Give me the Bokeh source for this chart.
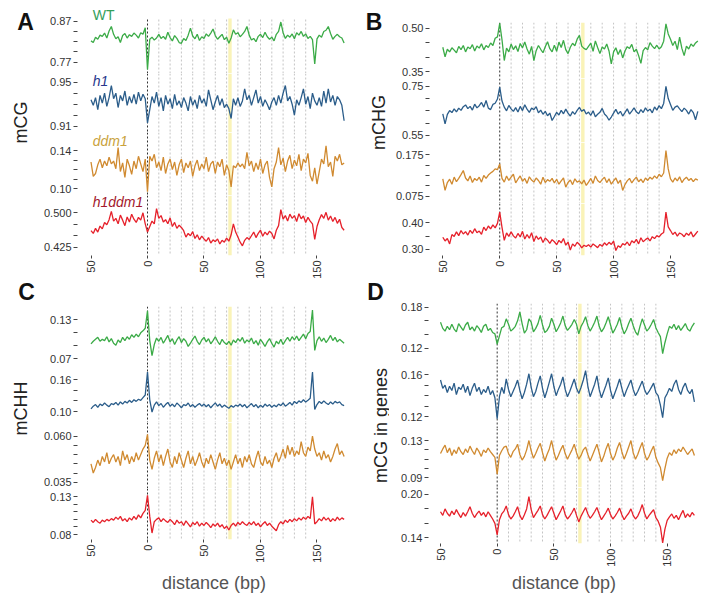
import math
from bokeh.plotting import figure
from bokeh.layouts import row, column
from bokeh.models import Range1d, FixedTicker, NumeralTickFormatter, Span, BoxAnnotation
from bokeh.core.properties import value
from bokeh.embed import file_html
from bokeh.resources import INLINE

FONT_NAME = "Liberation Sans"
FONT = value(FONT_NAME)

# ---------------- data ----------------
x_bp = list(range(-50, 176, 2))
genotypes = ["WT", "h1", "ddm1", "h1ddm1"]
line_colors = ["#3bab47", "#2b5d8a", "#d08a30", "#e6212b"]
name_colors = ["#34a05a", "#28378c", "#c9a23c", "#a3172b"]
name_styles = ["normal", "italic", "italic", "italic"]

xtick_vals = [-50, 0, 50, 100, 150]
xtick_labels = ["50", "0", "50", "100", "150"]
phase_lines = [10, 20, 30, 40, 50, 60, 70, 80, 90, 100, 110, 120, 130, 140]
dyad_band = [71.5, 74.5]

# panel A : mCG
mCG_WT = [0.822, 0.818, 0.831, 0.826, 0.836, 0.833, 0.841, 0.829, 0.846, 0.857,
          0.838, 0.827, 0.832, 0.818, 0.835, 0.840, 0.829, 0.837, 0.833, 0.841,
          0.836, 0.829, 0.842, 0.838, 0.854, 0.752, 0.826, 0.831, 0.824, 0.829,
          0.838, 0.828, 0.833, 0.826, 0.843, 0.830, 0.822, 0.835, 0.828, 0.818,
          0.816, 0.828, 0.823, 0.836, 0.853, 0.834, 0.827, 0.838, 0.823, 0.832,
          0.828, 0.839, 0.833, 0.841, 0.851, 0.835, 0.826, 0.832, 0.838, 0.825,
          0.831, 0.816, 0.829, 0.849, 0.838, 0.842, 0.832, 0.838, 0.845, 0.857,
          0.836, 0.824, 0.828, 0.820, 0.833, 0.838, 0.830, 0.843, 0.832, 0.826,
          0.831, 0.822, 0.838, 0.845, 0.868, 0.842, 0.828, 0.836, 0.831, 0.839,
          0.827, 0.842, 0.836, 0.845, 0.833, 0.839, 0.828, 0.833, 0.825, 0.766,
          0.827, 0.836, 0.831, 0.845, 0.848, 0.857, 0.840, 0.826, 0.833, 0.838,
          0.832, 0.829, 0.817]
mCG_h1 = [0.934, 0.929, 0.936, 0.925, 0.938, 0.931, 0.940, 0.928, 0.936, 0.947,
          0.935, 0.940, 0.927, 0.938, 0.933, 0.942, 0.929, 0.937, 0.931, 0.939,
          0.930, 0.941, 0.933, 0.939, 0.935, 0.913, 0.925, 0.937, 0.931, 0.941,
          0.928, 0.936, 0.924, 0.938, 0.930, 0.935, 0.926, 0.939, 0.929, 0.933,
          0.927, 0.936, 0.931, 0.924, 0.937, 0.929, 0.934, 0.926, 0.938, 0.931,
          0.935, 0.928, 0.943, 0.934, 0.925, 0.932, 0.938, 0.929, 0.935, 0.927,
          0.930, 0.926, 0.917, 0.935, 0.929, 0.936, 0.928, 0.933, 0.944, 0.934,
          0.938, 0.929, 0.936, 0.943, 0.931, 0.937, 0.928, 0.934, 0.930, 0.925,
          0.932, 0.936, 0.929, 0.938, 0.931, 0.940, 0.947, 0.933, 0.937, 0.930,
          0.920, 0.934, 0.929, 0.936, 0.944, 0.930, 0.937, 0.926, 0.940, 0.933,
          0.929, 0.936, 0.928, 0.942, 0.931, 0.944, 0.932, 0.938, 0.929, 0.937,
          0.934, 0.929, 0.915]
mCG_ddm1 = [0.128, 0.113, 0.116, 0.125, 0.131, 0.122, 0.129, 0.124, 0.133, 0.126,
            0.129, 0.121, 0.143, 0.118, 0.127, 0.112, 0.131, 0.124, 0.115, 0.129,
            0.121, 0.134, 0.126, 0.118, 0.131, 0.097, 0.134, 0.129, 0.136, 0.122,
            0.128, 0.119, 0.133, 0.116, 0.126, 0.131, 0.120, 0.128, 0.114, 0.125,
            0.131, 0.117, 0.127, 0.122, 0.129, 0.113, 0.124, 0.130, 0.119, 0.126,
            0.121, 0.133, 0.118, 0.126, 0.129, 0.116, 0.128, 0.123, 0.131, 0.114,
            0.125, 0.119, 0.102, 0.124, 0.122, 0.127, 0.123, 0.126, 0.121, 0.138,
            0.124, 0.129, 0.118, 0.127, 0.120, 0.131, 0.116, 0.125, 0.129, 0.112,
            0.102, 0.121, 0.128, 0.143, 0.125, 0.132, 0.118, 0.129, 0.135, 0.121,
            0.130, 0.124, 0.136, 0.119, 0.131, 0.127, 0.137, 0.114, 0.108, 0.122,
            0.105, 0.118, 0.131, 0.126, 0.145, 0.123, 0.128, 0.113, 0.134, 0.129,
            0.136, 0.125, 0.127]
mCG_h1ddm1 = [0.461, 0.455, 0.466, 0.458, 0.471, 0.465, 0.479, 0.474, 0.485, 0.503,
              0.482, 0.488, 0.476, 0.495, 0.484, 0.472, 0.491, 0.480, 0.497, 0.486,
              0.479, 0.490, 0.484, 0.500, 0.476, 0.458, 0.470, 0.482, 0.476, 0.509,
              0.488, 0.494, 0.480, 0.485, 0.476, 0.489, 0.470, 0.479, 0.466, 0.473,
              0.468, 0.461, 0.447, 0.455, 0.450, 0.459, 0.444, 0.452, 0.441, 0.449,
              0.443, 0.438, 0.446, 0.434, 0.441, 0.437, 0.443, 0.432, 0.440, 0.436,
              0.445, 0.438, 0.452, 0.476, 0.458, 0.447, 0.436, 0.428, 0.440, 0.446,
              0.442, 0.450, 0.458, 0.446, 0.455, 0.462, 0.449, 0.458, 0.452, 0.460,
              0.455, 0.443, 0.462, 0.472, 0.507, 0.486, 0.494, 0.482, 0.497, 0.488,
              0.494, 0.481, 0.498, 0.487, 0.493, 0.479, 0.490, 0.482, 0.476, 0.442,
              0.470, 0.485, 0.496, 0.488, 0.501, 0.484, 0.493, 0.481, 0.490, 0.477,
              0.486, 0.468, 0.462]

# panel B : mCHG
mCHG_WT = [0.434, 0.401, 0.427, 0.418, 0.432, 0.424, 0.415, 0.437, 0.426, 0.440,
           0.418, 0.435, 0.429, 0.443, 0.421, 0.438, 0.431, 0.446, 0.425, 0.440,
           0.433, 0.449, 0.440, 0.465, 0.470, 0.517, 0.460, 0.388, 0.431, 0.418,
           0.445, 0.426, 0.439, 0.419, 0.447, 0.432, 0.452, 0.428, 0.410, 0.437,
           0.388, 0.422, 0.440, 0.427, 0.415, 0.436, 0.453, 0.429, 0.418, 0.441,
           0.420, 0.452, 0.433, 0.458, 0.426, 0.412, 0.434, 0.448, 0.439, 0.462,
           0.475, 0.438, 0.430, 0.426, 0.437, 0.448, 0.420, 0.456, 0.433, 0.412,
           0.435, 0.428, 0.445, 0.421, 0.376, 0.418, 0.432, 0.409, 0.426, 0.397,
           0.421, 0.436, 0.430, 0.444, 0.418, 0.427, 0.405, 0.378, 0.422, 0.433,
           0.425, 0.450, 0.438, 0.429, 0.441, 0.428, 0.436, 0.455, 0.515, 0.480,
           0.462, 0.440, 0.455, 0.426, 0.469, 0.430, 0.405, 0.438, 0.428, 0.445,
           0.437, 0.449, 0.456]
mCHG_h1 = [0.638, 0.597, 0.636, 0.651, 0.643, 0.658, 0.646, 0.661, 0.652, 0.667,
           0.674, 0.659, 0.668, 0.653, 0.677, 0.662, 0.671, 0.684, 0.665, 0.692,
           0.661, 0.655, 0.676, 0.681, 0.698, 0.746, 0.690, 0.665, 0.650, 0.672,
           0.658, 0.648, 0.663, 0.645, 0.668, 0.651, 0.675, 0.657, 0.644, 0.661,
           0.655, 0.667, 0.642, 0.653, 0.636, 0.648, 0.630, 0.641, 0.611, 0.627,
           0.644, 0.633, 0.652, 0.638, 0.657, 0.641, 0.629, 0.647, 0.636, 0.652,
           0.664, 0.648, 0.655, 0.637, 0.645, 0.632, 0.650, 0.626, 0.636, 0.644,
           0.660, 0.637, 0.628, 0.612, 0.625, 0.641, 0.656, 0.637, 0.648, 0.629,
           0.643, 0.658, 0.637, 0.649, 0.662, 0.646, 0.638, 0.655, 0.643, 0.662,
           0.649, 0.657, 0.642, 0.666, 0.653, 0.671, 0.659, 0.680, 0.749, 0.700,
           0.676, 0.652, 0.665, 0.670, 0.658, 0.647, 0.661, 0.652, 0.637, 0.655,
           0.643, 0.614, 0.648]
mCHG_ddm1 = [0.117, 0.089, 0.108, 0.116, 0.104, 0.121, 0.110, 0.118, 0.127, 0.137,
             0.119, 0.112, 0.124, 0.108, 0.118, 0.113, 0.121, 0.109, 0.125, 0.118,
             0.126, 0.131, 0.135, 0.141, 0.139, 0.153, 0.118, 0.109, 0.124, 0.113,
             0.121, 0.128, 0.107, 0.116, 0.124, 0.111, 0.118, 0.106, 0.122, 0.114,
             0.109, 0.119, 0.113, 0.104, 0.121, 0.108, 0.115, 0.111, 0.118, 0.107,
             0.116, 0.104, 0.112, 0.119, 0.097, 0.108, 0.114, 0.103, 0.117, 0.109,
             0.112, 0.105, 0.114, 0.101, 0.109, 0.118, 0.106, 0.124, 0.113, 0.108,
             0.115, 0.121, 0.108, 0.117, 0.104, 0.112, 0.119, 0.106, 0.114, 0.089,
             0.103, 0.112, 0.118, 0.107, 0.115, 0.121, 0.110, 0.116, 0.108, 0.119,
             0.113, 0.121, 0.116, 0.124, 0.118, 0.128, 0.122, 0.131, 0.185, 0.141,
             0.117, 0.109, 0.119, 0.112, 0.122, 0.108, 0.116, 0.121, 0.113, 0.118,
             0.110, 0.117, 0.114]
mCHG_h1ddm1 = [0.346, 0.332, 0.341, 0.321, 0.356, 0.349, 0.366, 0.352, 0.371, 0.358,
               0.367, 0.354, 0.372, 0.360, 0.378, 0.363, 0.369, 0.357, 0.384, 0.371,
               0.388, 0.377, 0.392, 0.381, 0.398, 0.440, 0.383, 0.334, 0.362, 0.349,
               0.366, 0.351, 0.343, 0.360, 0.347, 0.368, 0.339, 0.356, 0.342, 0.363,
               0.330, 0.351, 0.338, 0.347, 0.326, 0.343, 0.335, 0.323, 0.337, 0.329,
               0.318, 0.334, 0.325, 0.341, 0.316, 0.328, 0.298, 0.321, 0.312, 0.327,
               0.319, 0.306, 0.316, 0.311, 0.318, 0.309, 0.321, 0.314, 0.307, 0.319,
               0.312, 0.325, 0.316, 0.327, 0.319, 0.331, 0.296, 0.314, 0.308, 0.322,
               0.317, 0.328, 0.314, 0.333, 0.325, 0.338, 0.321, 0.344, 0.329, 0.337,
               0.343, 0.332, 0.348, 0.341, 0.352, 0.347, 0.358, 0.364, 0.440, 0.385,
               0.371, 0.356, 0.365, 0.350, 0.362, 0.357, 0.348, 0.361, 0.353, 0.366,
               0.347, 0.358, 0.369]

# panel C : mCHH
mCHH_WT = [0.093, 0.097, 0.100, 0.103, 0.097, 0.100, 0.098, 0.104, 0.096, 0.101,
           0.094, 0.091, 0.099, 0.095, 0.103, 0.098, 0.104, 0.100, 0.107, 0.103,
           0.108, 0.104, 0.110, 0.113, 0.117, 0.144, 0.098, 0.075, 0.092, 0.102,
           0.097, 0.103, 0.094, 0.100, 0.106, 0.096, 0.101, 0.092, 0.099, 0.104,
           0.095, 0.101, 0.097, 0.089, 0.094, 0.100, 0.105, 0.097, 0.092, 0.099,
           0.103, 0.096, 0.101, 0.093, 0.098, 0.104, 0.097, 0.092, 0.100, 0.095,
           0.092, 0.097, 0.091, 0.099, 0.095, 0.101, 0.097, 0.103, 0.094, 0.099,
           0.096, 0.102, 0.093, 0.098, 0.091, 0.100, 0.095, 0.089, 0.096, 0.101,
           0.094, 0.088, 0.097, 0.093, 0.100, 0.092, 0.098, 0.103, 0.097, 0.104,
           0.099, 0.105, 0.098, 0.103, 0.108, 0.101, 0.109, 0.112, 0.145, 0.083,
           0.098, 0.104, 0.097, 0.102, 0.095, 0.100, 0.106, 0.098, 0.103, 0.096,
           0.100, 0.097, 0.094]
mCHH_h1 = [0.105, 0.110, 0.113, 0.108, 0.114, 0.111, 0.116, 0.112, 0.109, 0.115,
           0.113, 0.117, 0.112, 0.118, 0.114, 0.119, 0.116, 0.121, 0.117, 0.122,
           0.119, 0.123, 0.121, 0.126, 0.131, 0.174, 0.122, 0.099, 0.112, 0.118,
           0.111, 0.115, 0.108, 0.113, 0.117, 0.110, 0.114, 0.109, 0.116, 0.112,
           0.107, 0.113, 0.111, 0.116, 0.109, 0.113, 0.108, 0.112, 0.115, 0.110,
           0.114, 0.109, 0.113, 0.107, 0.112, 0.116, 0.110, 0.114, 0.108, 0.112,
           0.109, 0.106, 0.111, 0.108, 0.112, 0.110, 0.114, 0.109, 0.113, 0.107,
           0.111, 0.115, 0.109, 0.113, 0.107, 0.112, 0.108, 0.114, 0.110, 0.113,
           0.108, 0.112, 0.109, 0.114, 0.111, 0.116, 0.110, 0.113, 0.117, 0.112,
           0.119, 0.115, 0.120, 0.117, 0.122, 0.118, 0.121, 0.125, 0.174, 0.104,
           0.113, 0.119, 0.115, 0.120, 0.116, 0.113, 0.118, 0.114, 0.119, 0.116,
           0.118, 0.113, 0.111]
mCHH_ddm1 = [0.045, 0.040, 0.043, 0.047, 0.044, 0.049, 0.046, 0.051, 0.045, 0.048,
             0.050, 0.046, 0.049, 0.044, 0.052, 0.047, 0.050, 0.045, 0.049, 0.046,
             0.051, 0.047, 0.050, 0.053, 0.055, 0.061, 0.047, 0.042, 0.048, 0.052,
             0.046, 0.050, 0.044, 0.049, 0.053, 0.046, 0.043, 0.049, 0.045, 0.051,
             0.047, 0.043, 0.048, 0.052, 0.045, 0.049, 0.044, 0.047, 0.051, 0.046,
             0.043, 0.048, 0.045, 0.050, 0.046, 0.042, 0.047, 0.051, 0.045, 0.048,
             0.044, 0.047, 0.042, 0.046, 0.050, 0.045, 0.048, 0.043, 0.049, 0.046,
             0.050, 0.045, 0.043, 0.048, 0.052, 0.046, 0.044, 0.049, 0.045, 0.047,
             0.043, 0.048, 0.051, 0.046, 0.049, 0.053, 0.048, 0.055, 0.050, 0.054,
             0.049, 0.052, 0.050, 0.057, 0.051, 0.049, 0.054, 0.052, 0.060, 0.053,
             0.049, 0.051, 0.047, 0.052, 0.048, 0.050, 0.046, 0.049, 0.053, 0.056,
             0.050, 0.052, 0.049]
mCHH_h1ddm1 = [0.099, 0.096, 0.100, 0.097, 0.095, 0.099, 0.097, 0.100, 0.098, 0.101,
               0.099, 0.103, 0.100, 0.104, 0.098, 0.101, 0.097, 0.102, 0.099, 0.104,
               0.100, 0.106, 0.102, 0.108, 0.112, 0.132, 0.104, 0.082, 0.097, 0.100,
               0.102, 0.097, 0.101, 0.098, 0.096, 0.100, 0.097, 0.093, 0.099, 0.095,
               0.097, 0.092, 0.098, 0.094, 0.090, 0.096, 0.093, 0.097, 0.091, 0.095,
               0.092, 0.096, 0.093, 0.089, 0.094, 0.091, 0.095, 0.090, 0.093, 0.088,
               0.091, 0.086, 0.092, 0.095, 0.091, 0.096, 0.093, 0.097, 0.094, 0.092,
               0.096, 0.093, 0.097, 0.092, 0.095, 0.090, 0.094, 0.097, 0.092, 0.095,
               0.091, 0.088, 0.085, 0.093, 0.097, 0.094, 0.099, 0.096, 0.100, 0.097,
               0.101, 0.098, 0.102, 0.099, 0.103, 0.100, 0.104, 0.101, 0.130, 0.094,
               0.097, 0.101, 0.098, 0.103, 0.099, 0.102, 0.097, 0.101, 0.098, 0.103,
               0.099, 0.102, 0.100]

# panel D : mCG in genes
genes_WT = [0.158, 0.149, 0.145, 0.152, 0.147, 0.155, 0.148, 0.144, 0.156, 0.151,
            0.146, 0.154, 0.158, 0.147, 0.151, 0.145, 0.153, 0.149, 0.143, 0.152,
            0.155, 0.146, 0.149, 0.143, 0.141, 0.126, 0.138, 0.150, 0.152, 0.163,
            0.155, 0.145, 0.148, 0.152, 0.160, 0.173, 0.156, 0.142, 0.147, 0.163,
            0.158, 0.144, 0.149, 0.156, 0.168, 0.154, 0.143, 0.146, 0.152, 0.164,
            0.155, 0.144, 0.150, 0.157, 0.167, 0.153, 0.146, 0.150, 0.155, 0.162,
            0.155, 0.141, 0.152, 0.158, 0.166, 0.153, 0.145, 0.151, 0.158, 0.167,
            0.152, 0.144, 0.149, 0.157, 0.166, 0.154, 0.142, 0.148, 0.155, 0.165,
            0.151, 0.141, 0.147, 0.156, 0.164, 0.153, 0.144, 0.139, 0.152, 0.163,
            0.154, 0.145, 0.149, 0.155, 0.162, 0.150, 0.143, 0.137, 0.112, 0.128,
            0.141, 0.152, 0.149, 0.155, 0.147, 0.153, 0.146, 0.151, 0.156, 0.148,
            0.145, 0.152, 0.157]
genes_h1 = [0.155, 0.147, 0.150, 0.143, 0.149, 0.145, 0.152, 0.141, 0.148, 0.146,
            0.151, 0.143, 0.149, 0.140, 0.147, 0.152, 0.144, 0.148, 0.141, 0.146,
            0.143, 0.149, 0.141, 0.145, 0.138, 0.118, 0.139, 0.148, 0.142, 0.156,
            0.146, 0.139, 0.144, 0.149, 0.155, 0.145, 0.137, 0.143, 0.151, 0.161,
            0.148, 0.139, 0.144, 0.152, 0.159, 0.147, 0.138, 0.145, 0.153, 0.161,
            0.149, 0.140, 0.146, 0.151, 0.158, 0.146, 0.139, 0.144, 0.150, 0.156,
            0.147, 0.142, 0.148, 0.155, 0.164, 0.149, 0.139, 0.145, 0.151, 0.159,
            0.146, 0.138, 0.144, 0.150, 0.157, 0.145, 0.137, 0.143, 0.149, 0.156,
            0.147, 0.139, 0.145, 0.150, 0.155, 0.146, 0.140, 0.144, 0.149, 0.154,
            0.146, 0.141, 0.144, 0.148, 0.152, 0.143, 0.140, 0.131, 0.119, 0.138,
            0.142, 0.147, 0.144, 0.151, 0.155, 0.146, 0.141, 0.148, 0.152, 0.145,
            0.142, 0.146, 0.134]
genes_ddm1 = [0.116, 0.121, 0.125, 0.117, 0.122, 0.114, 0.120, 0.116, 0.123, 0.118,
              0.115, 0.121, 0.117, 0.124, 0.119, 0.115, 0.122, 0.118, 0.113, 0.120,
              0.117, 0.122, 0.118, 0.115, 0.112, 0.094, 0.114, 0.119, 0.123, 0.124,
              0.116, 0.112, 0.118, 0.121, 0.126, 0.115, 0.109, 0.113, 0.120, 0.130,
              0.119, 0.111, 0.116, 0.122, 0.127, 0.117, 0.108, 0.115, 0.121, 0.130,
              0.118, 0.109, 0.114, 0.120, 0.125, 0.116, 0.110, 0.115, 0.120, 0.126,
              0.117, 0.110, 0.114, 0.120, 0.123, 0.115, 0.108, 0.114, 0.120, 0.126,
              0.117, 0.107, 0.113, 0.121, 0.127, 0.116, 0.109, 0.114, 0.122, 0.128,
              0.118, 0.110, 0.116, 0.123, 0.130, 0.117, 0.110, 0.115, 0.122, 0.128,
              0.116, 0.109, 0.113, 0.119, 0.124, 0.112, 0.106, 0.101, 0.087, 0.100,
              0.111, 0.117, 0.114, 0.120, 0.116, 0.121, 0.118, 0.123, 0.119, 0.115,
              0.118, 0.121, 0.114]
genes_h1ddm1 = [0.176, 0.171, 0.180, 0.174, 0.170, 0.177, 0.172, 0.179, 0.173, 0.168,
                0.175, 0.170, 0.176, 0.183, 0.174, 0.168, 0.173, 0.177, 0.171, 0.175,
                0.169, 0.176, 0.171, 0.166, 0.160, 0.144, 0.165, 0.173, 0.177, 0.184,
                0.172, 0.166, 0.170, 0.176, 0.183, 0.171, 0.165, 0.172, 0.180, 0.197,
                0.179, 0.168, 0.173, 0.178, 0.184, 0.172, 0.166, 0.171, 0.177, 0.183,
                0.174, 0.165, 0.171, 0.177, 0.184, 0.172, 0.166, 0.170, 0.175, 0.181,
                0.171, 0.162, 0.170, 0.176, 0.182, 0.173, 0.167, 0.171, 0.176, 0.182,
                0.173, 0.165, 0.170, 0.175, 0.181, 0.172, 0.166, 0.170, 0.175, 0.181,
                0.172, 0.165, 0.170, 0.174, 0.180, 0.171, 0.166, 0.170, 0.177, 0.186,
                0.174, 0.166, 0.171, 0.175, 0.179, 0.168, 0.163, 0.155, 0.133, 0.152,
                0.164, 0.169, 0.173, 0.167, 0.171, 0.165, 0.172, 0.178, 0.168, 0.173,
                0.169, 0.175, 0.171]

# axis ticks (labelled ends) and unlabelled minor ticks for each sub-panel
mCG_ticks = [["0.77", "0.87"], ["0.91", "0.95"], ["0.10", "0.14"], ["0.425", "0.500"]]
mCG_minor = [[0.795, 0.82, 0.845], [0.92, 0.93, 0.94], [0.11, 0.12, 0.13], [0.45, 0.475]]
mCHG_ticks = [["0.35", "0.50"], ["0.55", "0.75"], ["0.075", "0.175"], ["0.30", "0.40"]]
mCHG_minor = [[0.40, 0.45], [0.60, 0.65, 0.70], [0.10, 0.125, 0.15], [0.35]]
mCHH_ticks = [["0.07", "0.13"], ["0.10", "0.16"], ["0.035", "0.060"], ["0.08", "0.13"]]
mCHH_minor = [[0.09, 0.11], [0.12, 0.14], [0.040, 0.045, 0.050, 0.055], [0.09, 0.10, 0.11, 0.12]]
genes_ticks = [["0.12", "0.18"], ["0.12", "0.16"], ["0.09", "0.13"], ["0.14", "0.20"]]
genes_minor = [[0.14, 0.16], [0.13, 0.14, 0.15], [0.10, 0.11, 0.12], [0.16, 0.18]]

for s in [mCG_WT, mCG_h1, mCG_ddm1, mCG_h1ddm1, mCHG_WT, mCHG_h1, mCHG_ddm1, mCHG_h1ddm1,
          mCHH_WT, mCHH_h1, mCHH_ddm1, mCHH_h1ddm1, genes_WT, genes_h1, genes_ddm1, genes_h1ddm1]:
    assert len(s) == len(x_bp), len(s)

# ---------------- drawing ----------------
def style_axis_common(ax):
    ax.axis_line_color = None
    ax.major_tick_in = 0
    ax.minor_tick_in = 0
    ax.major_tick_line_color = "#444444"
    ax.minor_tick_line_color = "#444444"
    ax.major_label_text_font = FONT_NAME
    ax.major_label_text_font_size = "11px"
    ax.major_label_text_color = "#333333"
    ax.major_label_standoff = 2


def make_panel(series, ticks, minors, yranges, frame_h, top_b, bot_b, xr, bl, fw, br,
               names=None, cap=None, xlabel=None, xlabel_standoff=0):
    figs = []
    for i in range(4):
        first, last = i == 0, i == 3
        h = frame_h[i] + (top_b if first else 0) + (bot_b if last else 0)
        p = figure(width=bl + fw + br, height=h, output_backend="svg", toolbar_location=None,
                   x_range=Range1d(*xr), y_range=Range1d(*yranges[i]),
                   x_axis_location="below" if last else None, y_axis_location="left",
                   min_border=0, min_border_left=bl, min_border_right=br,
                   min_border_top=top_b if first else 0, min_border_bottom=bot_b if last else 0)
        p.outline_line_color = None
        p.grid.visible = False
        p.background_fill_color = "white"
        p.border_fill_color = "white"
        ylo, yhi = yranges[i]
        if first and cap is not None:
            p.quad(left=[dyad_band[0]], right=[dyad_band[1]], bottom=[ylo], top=[cap],
                   fill_color="#faf3b8", line_color=None, level="underlay")
            p.segment(x0=phase_lines, y0=[ylo] * len(phase_lines), x1=phase_lines,
                      y1=[cap] * len(phase_lines), line_color="#c4c4c4", line_dash="2 2",
                      line_width=1, level="underlay")
            p.segment(x0=[0], y0=[ylo], x1=[0], y1=[cap], line_color="#333333",
                      line_dash="2 2", line_width=1, level="underlay")
        else:
            p.add_layout(BoxAnnotation(left=dyad_band[0], right=dyad_band[1],
                                       fill_color="#faf3b8", fill_alpha=1.0,
                                       line_color=None, level="underlay"))
            for xv in phase_lines:
                p.add_layout(Span(location=xv, dimension="height", line_color="#c4c4c4",
                                  line_dash="2 2", line_width=1, level="underlay"))
            p.add_layout(Span(location=0, dimension="height", line_color="#333333",
                              line_dash="2 2", line_width=1, level="underlay"))
        p.line(x_bp, series[i], line_color=line_colors[i], line_width=1.3)
        if names is not None:
            p.text(x=[names[0]], y=[names[1][i]], text=[genotypes[i]],
                   text_color=name_colors[i], text_font=FONT, text_font_size="14px",
                   text_font_style=name_styles[i], text_align="left", text_baseline="middle")
        yax = p.yaxis[0]
        yax.ticker = FixedTicker(ticks=[float(t) for t in ticks[i]], minor_ticks=minors[i])
        dec = len(ticks[i][0].split(".")[1])
        yax.formatter = NumeralTickFormatter(format="0." + "0" * dec)
        style_axis_common(yax)
        yax.major_tick_out = 4
        yax.minor_tick_out = 4
        if last:
            xax = p.xaxis[0]
            xax.ticker = FixedTicker(ticks=xtick_vals)
            ov = {}
            for v, lab in zip(xtick_vals, xtick_labels):
                ov[v] = lab
                ov[str(v)] = lab
            xax.major_label_overrides = ov
            xax.major_label_orientation = math.pi / 2
            style_axis_common(xax)
            xax.major_tick_out = 3
            xax.minor_tick_out = 0
            if xlabel:
                xax.axis_label = xlabel
                xax.axis_label_text_font = FONT_NAME
                xax.axis_label_text_font_size = "18px"
                xax.axis_label_text_font_style = "normal"
                xax.axis_label_text_color = "#555555"
                xax.axis_label_standoff = xlabel_standoff
        figs.append(p)
    return column(*figs, spacing=0)


def make_label_fig(w, h, letters, ylabels):
    p = figure(width=w, height=h, output_backend="svg", toolbar_location=None,
               x_range=Range1d(0, w), y_range=Range1d(0, h), min_border=0,
               x_axis_location=None, y_axis_location=None)
    p.outline_line_color = None
    p.grid.visible = False
    for txt, (lx, ly) in letters:
        p.text(x=[lx], y=[h - ly], text=[txt], text_font=FONT, text_font_size="23px",
               text_font_style="bold", text_color="#111111", text_align="center",
               text_baseline="middle")
    for txt, (lx, ly) in ylabels:
        p.text(x=[lx], y=[h - ly], text=[txt], angle=math.pi / 2, text_font=FONT,
               text_font_size="18px", text_color="#222222", text_align="center",
               text_baseline="middle")
    return p


xr_AC = (-61.95, 179.65)
xr_B = (-61.68, 175.47)
xr_D = (-60.59, 178.5)

colA = make_panel([mCG_WT, mCG_h1, mCG_ddm1, mCG_h1ddm1], mCG_ticks, mCG_minor,
                  [(0.7424, 0.901), (0.9043, 0.9579), (0.093, 0.1588), (0.4069, 0.5377)],
                  [65, 59, 63, 60], 8, 26, xr_AC, 39, 273, 8,
                  names=(-48.5, [0.8855, 0.9515, 0.1504, 0.5231]), cap=0.8766)
colB = make_panel([mCHG_WT, mCHG_h1, mCHG_ddm1, mCHG_h1ddm1], mCHG_ticks, mCHG_minor,
                  [(0.3258, 0.5197), (0.5216, 0.7812), (0.0574, 0.2047), (0.2775, 0.4723)],
                  [56, 64, 61, 52], 22, 26, xr_B, 40, 270, 3)
colC = make_panel([mCHH_WT, mCHH_h1, mCHH_ddm1, mCHH_h1ddm1], mCHH_ticks, mCHH_minor,
                  [(0.0597, 0.1505), (0.0794, 0.1863), (0.0316, 0.0674), (0.0734, 0.1409)],
                  [59, 57, 66, 54], 25, 53, xr_AC, 39, 273, 8,
                  xlabel="distance (bp)", xlabel_standoff=7)
colD = make_panel([genes_WT, genes_h1, genes_ddm1, genes_h1ddm1], genes_ticks, genes_minor,
                  [(0.0991, 0.1854), (0.1085, 0.1718), (0.0796, 0.1429), (0.1321, 0.2096)],
                  [59, 66, 59, 59], 22, 49, xr_D, 39, 271, 3,
                  xlabel="distance (bp)", xlabel_standoff=3)

labL = make_label_fig(38, 595, [("A", (25, 21)), ("C", (26, 291))],
                      [("mCG", (20, 122)), ("mCHH", (20, 408))])
labR = make_label_fig(31, 595, [("B", (15.5, 21)), ("D", (17, 291))],
                      [("mCHG", (20, 122)), ("mCG in genes", (22, 425))])

layout = row(labL, column(colA, colC, spacing=0), labR, column(colB, colD, spacing=0),
             spacing=0)

open("out.html", "w").write(file_html(layout, INLINE))
